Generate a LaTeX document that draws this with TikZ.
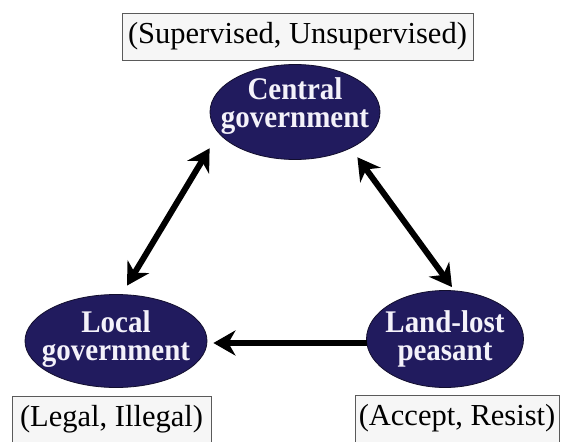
\documentclass[tikz,border=0pt]{standalone}
\usepackage{fontspec}
\setmainfont{Liberation Serif}
\newfontfamily\actorfont[FakeStretch=0.92]{Liberation Serif}
\usetikzlibrary{shapes.geometric,arrows.meta}
\definecolor{navy}{RGB}{33,27,94}
\definecolor{ellipseedge}{RGB}{18,14,45}
\definecolor{boxfill}{RGB}{246,246,246}
\definecolor{boxedge}{RGB}{90,90,90}
\definecolor{txtwhite}{RGB}{244,242,250}
\tikzset{
  actor/.style={ellipse, draw=ellipseedge, line width=0.8pt, fill=navy, inner sep=0pt},
  actortext/.style={text=txtwhite, inner sep=0pt, align=center,
    font=\actorfont\fontsize{31.5pt}{28.3pt}\selectfont\bfseries},
  choice/.style={rectangle, draw=boxedge, line width=0.9pt, fill=boxfill, inner sep=0pt,
    font=\fontsize{30.5pt}{32pt}\selectfont},
  link/.style={line width=6pt, black, line cap=butt,
    arrows={Stealth[length=22pt,width=25pt,inset=7pt]-Stealth[length=22pt,width=25pt,inset=7pt]}},
  onelink/.style={line width=6pt, black, line cap=butt,
    arrows={-Stealth[length=22pt,width=25pt,inset=7pt]}}
}
\begin{document}
\begin{tikzpicture}[x=1pt,y=-1pt]
\useasboundingbox (0,0) rectangle (561,441);
% choice boxes
\node[choice, minimum width=351pt, minimum height=47pt] (supbox) at (297.5,36.5) {(Supervised, Unsupervised)};
\node[choice, minimum width=199pt, minimum height=47pt] (legbox) at (111.5,419.5) {(Legal, Illegal)};
\node[choice, minimum width=204pt, minimum height=47pt] (accbox) at (457,418.5) {(Accept, Resist)};
% actors
\node[actor, minimum width=170pt, minimum height=95pt] (central) at (295,112) {};
\node[actor, minimum width=182pt, minimum height=93pt] (local) at (116,341) {};
\node[actor, minimum width=157pt, minimum height=97pt] (land) at (445,339) {};
\node[actortext] (centralt) at ([shift={(0,-6)}]central.center) {Central\\government};
\node[actortext] (localt) at ([shift={(0,-2)}]local.center) {Local\\government};
\node[actortext] (landt) at ([shift={(0,0)}]land.center) {Land-lost\\peasant};
% connectors
\draw[link] ([shift={(-25,2.4)}]central.south west) -- ([shift={(11,-8.5)}]local.north);
\draw[link] ([shift={(2,11.4)}]central.south east) -- ([shift={(7,-3)}]land.north);
\draw[onelink] ([shift={(0.5,4)}]land.west) -- ([shift={(6,2)}]local.east);
\end{tikzpicture}
\end{document}
